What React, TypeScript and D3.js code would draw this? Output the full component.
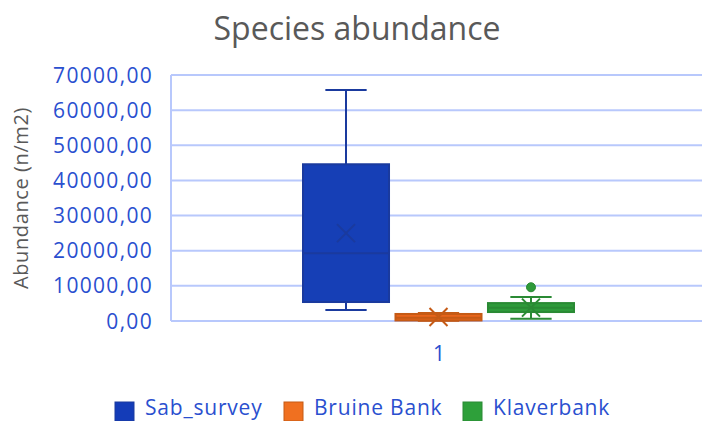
import React from "react";
import * as d3 from "d3";

const categories = ["1"];
const seriesNames = ["Sab_survey", "Bruine Bank", "Klaverbank"];
const fillColors = ["#163fb6", "#e8651a", "#2e9a3a"];
const strokeColors = ["#1a3a9e", "#c55a15", "#2a8a34"];
const legendColors = ["#143cb8", "#f07020", "#2ea03a"];
const whiskerLow = [3100, 50, 650];
const q1 = [5400, 150, 2550];
const medians = [19300, 900, 3800];
const q3 = [44600, 2000, 5100];
const whiskerHigh = [65700, 2300, 6800];
const means = [25000, 1150, 3800];
const outliers: number[][] = [[], [], [9600]];
const yTicks = [0, 10000, 20000, 30000, 40000, 50000, 60000, 70000];

const W = 702, H = 421;
const plot = { left: 171, right: 703, top: 75, bottom: 321 };

export default function App() {
  const y = d3.scaleLinear().domain([0, 70000]).range([plot.bottom, plot.top]);
  const xCat = d3.scaleBand().domain(categories).range([plot.left, plot.right]);
  const xSeries = d3.scaleBand().domain(seriesNames)
    .range([plot.left + 132, plot.left + 132 + 271]).paddingInner(0.07).paddingOuter(0);
  const fmt = (v: number) => d3.format(".2f")(v).replace(".", ",");
  const bw = xSeries.bandwidth();
  const capW = bw * 0.48;
  return (
    <svg width={W} height={H} style={{ position: "absolute", left: 0, top: 0, fontFamily: "'Open Sans', sans-serif" }}>
      <rect width={W} height={H} fill="#fff" />
      <text x={357} y={40} textAnchor="middle" fontSize={32} fill="#595959">Species abundance</text>
      {yTicks.map(t => (
        <g key={t}>
          <line x1={plot.left} x2={plot.right} y1={y(t)} y2={y(t)} stroke="#b8c8fc" strokeWidth={2} />
          <text x={153} y={y(t) + 7.5} textAnchor="end" fontSize={21} letterSpacing={1.3} fill="#2a4fcf">{fmt(t)}</text>
        </g>
      ))}
      <line x1={plot.left} x2={plot.left} y1={plot.top} y2={plot.bottom} stroke="#b8c8fc" strokeWidth={2} />
      <text transform={`translate(28,198) rotate(-90)`} textAnchor="middle" fontSize={20} letterSpacing={0.6} fill="#595959">Abundance (n/m2)</text>
      {categories.map(c => (
        <text key={c} x={(xCat(c) as number) + xCat.bandwidth() / 2 + 2} y={361} textAnchor="middle" fontSize={21} fill="#2a4fcf">{c}</text>
      ))}
      {seriesNames.map((s, i) => {
        const x0 = xSeries(s) as number;
        const cx = x0 + bw / 2;
        const mk = 9;
        return (
          <g key={s}>
            <line x1={cx} x2={cx} y1={y(whiskerHigh[i])} y2={y(q3[i])} stroke={strokeColors[i]} strokeWidth={2} />
            <line x1={cx} x2={cx} y1={y(q1[i])} y2={y(whiskerLow[i])} stroke={strokeColors[i]} strokeWidth={2} />
            <line x1={cx - capW / 2} x2={cx + capW / 2} y1={y(whiskerHigh[i])} y2={y(whiskerHigh[i])} stroke={strokeColors[i]} strokeWidth={2} />
            <line x1={cx - capW / 2} x2={cx + capW / 2} y1={y(whiskerLow[i])} y2={y(whiskerLow[i])} stroke={strokeColors[i]} strokeWidth={2} />
            <rect x={x0} y={y(q3[i])} width={bw} height={Math.max(1, y(q1[i]) - y(q3[i]))} fill={fillColors[i]} stroke={strokeColors[i]} strokeWidth={2} />
            <line x1={x0} x2={x0 + bw} y1={y(medians[i])} y2={y(medians[i])} stroke={strokeColors[i]} strokeWidth={2} />
            <path d={`M${cx - mk},${y(means[i]) - mk}L${cx + mk},${y(means[i]) + mk}M${cx - mk},${y(means[i]) + mk}L${cx + mk},${y(means[i]) - mk}`} stroke={strokeColors[i]} strokeWidth={2} fill="none" />
            {outliers[i].map((o, j) => (
              <circle key={j} cx={cx} cy={y(o)} r={4.5} fill={fillColors[i]} stroke={strokeColors[i]} strokeWidth={1} />
            ))}
          </g>
        );
      })}
      {seriesNames.map((s, i) => {
        const lx = [115, 284, 463][i];
        return (
          <g key={s}>
            <rect x={lx} y={402} width={19} height={19} fill={legendColors[i]} stroke={strokeColors[i]} strokeWidth={1} />
            <text x={lx + 30} y={415} fontSize={21} letterSpacing={0.8} fill="#2a4fcf">{s}</text>
          </g>
        );
      })}
    </svg>
  );
}
